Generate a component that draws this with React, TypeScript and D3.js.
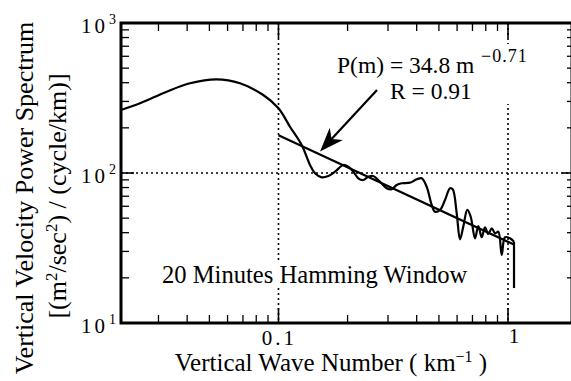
import React from 'react';
import * as d3 from 'd3';

const W = 571;
const H = 381;
const X_DOMAIN: [number, number] = [0.0206, 1.9];
const Y_DOMAIN: [number, number] = [10, 1000];

// Spectrum (vertical wave number km^-1, power)
const specM = [
  0.0206, 0.02492, 0.03258, 0.04116, 0.05378, 0.06796, 0.08585, 0.1, 0.1122, 0.1262,
  0.1372, 0.1442, 0.1543, 0.1648, 0.1763, 0.1916, 0.2014, 0.2118, 0.2227, 0.2342,
  0.2462, 0.2581, 0.2769, 0.2961, 0.3113, 0.3273, 0.3441, 0.3741, 0.4002, 0.4207,
  0.4422, 0.4651, 0.4808, 0.5055, 0.5315, 0.5589, 0.5741, 0.5976, 0.6176, 0.6384,
  0.6647, 0.6877, 0.718, 0.7422, 0.7679, 0.7938, 0.8208, 0.8492, 0.8779, 0.9072,
  0.9387, 0.9703, 1.0202, 1.0619,
];
const specP = [
  263.0, 291.5, 348.3, 396.3, 421.4, 396.3, 331.1, 270.0, 203.5, 153.7,
  113.1, 99.5, 93.6, 95.5, 102.0, 113.1, 110.2, 102.0, 92.2, 89.8,
  94.5, 95.5, 87.5, 79.1, 77.9, 83.2, 85.4, 86.2, 90.8, 92.2,
  81.0, 61.2, 55.2, 56.7, 66.1, 79.1, 77.9, 53.9, 36.1, 43.9,
  56.7, 51.1, 36.7, 44.3, 37.3, 43.4, 39.2, 42.8, 39.6, 40.6,
  28.4, 37.3, 36.7, 34.8,
];
const dropEndP = 17.1;

// Power-law fit
const fitA = 34.8;
const fitB = -0.71;
const fitM = [0.1, 1.062];

// Axes
const xMajor = [0.1, 1];
const xMinor = [0.03, 0.04, 0.05, 0.06, 0.07, 0.08, 0.09, 0.2, 0.3, 0.4, 0.5, 0.6, 0.7, 0.8, 0.9];
const xLabels = ['0.1', '1'];
const yMajor = [10, 100, 1000];
const yMinor = [20, 30, 40, 50, 60, 70, 80, 90, 200, 300, 400, 500, 600, 700, 800, 900];
const yExp = ['1', '2', '3'];
const gridX = [0.1, 1];
const gridY = [100];

// Arrow (data coords)
const arrowTail: [number, number] = [0.2687, 357.5];
const arrowTip: [number, number] = [0.1517, 139.1];

const FONT = '"Liberation Serif", "Times New Roman", serif';

export default function App() {
  const x = d3.scaleLog().domain(X_DOMAIN).range([121, 572]);
  const y = d3.scaleLog().domain(Y_DOMAIN).range([323, 23]);
  const left = x(X_DOMAIN[0]);
  const right = x(X_DOMAIN[1]);
  const top = y(Y_DOMAIN[1]);
  const bottom = y(Y_DOMAIN[0]);

  const pts: [number, number][] = specM.map((m, i) => [x(m), y(specP[i])]);
  const line = d3.line<[number, number]>().curve(d3.curveCatmullRom.alpha(0.5));
  const specPath = line(pts) || '';
  const lastM = specM[specM.length - 1];
  const dropPath = `M${x(lastM)},${y(specP[specP.length - 1])}L${x(lastM)},${y(dropEndP)}`;

  const fitPath = d3.line<number>().x((m) => x(m)).y((m) => y(fitA * Math.pow(m, fitB)))(fitM) || '';

  const tx = x(arrowTail[0]), ty = y(arrowTail[1]);
  const px = x(arrowTip[0]), py = y(arrowTip[1]);
  const dx = px - tx, dy = py - ty;
  const len = Math.hypot(dx, dy);
  const ux = dx / len, uy = dy / len;
  const nx = -uy, ny = ux;
  const hl = 24, hw = 9, notch = 17;
  const b1 = [px - ux * hl + nx * hw, py - uy * hl + ny * hw];
  const b2 = [px - ux * hl - nx * hw, py - uy * hl - ny * hw];
  const nt = [px - ux * notch, py - uy * notch];
  const headPath = `M${px},${py}L${b1[0]},${b1[1]}L${nt[0]},${nt[1]}L${b2[0]},${b2[1]}Z`;

  return (
    <svg width={W} height={H} style={{ position: 'absolute', left: 0, top: 0, background: '#fff' }} fontFamily={FONT}>
      <rect x={0} y={0} width={W} height={H} fill="#fff" />
      {/* grid */}
      {gridX.map((g) => (
        <line key={'gx' + g} x1={x(g)} x2={x(g)} y1={top} y2={bottom} stroke="#000" strokeWidth={1.6} strokeDasharray="2,3" />
      ))}
      {gridY.map((g) => (
        <line key={'gy' + g} x1={left} x2={right} y1={y(g)} y2={y(g)} stroke="#000" strokeWidth={1.6} strokeDasharray="2,3" />
      ))}
      {/* ticks */}
      {xMinor.map((t) => (
        <g key={'xm' + t}>
          <line x1={x(t)} x2={x(t)} y1={bottom} y2={bottom - 8} stroke="#000" strokeWidth={1.3} />
          <line x1={x(t)} x2={x(t)} y1={top} y2={top + 8} stroke="#000" strokeWidth={1.3} />
        </g>
      ))}
      {xMajor.map((t) => (
        <g key={'xM' + t}>
          <line x1={x(t)} x2={x(t)} y1={bottom} y2={bottom - 15} stroke="#000" strokeWidth={1.6} />
          <line x1={x(t)} x2={x(t)} y1={top} y2={top + 15} stroke="#000" strokeWidth={1.6} />
        </g>
      ))}
      {yMinor.map((t) => (
        <g key={'ym' + t}>
          <line x1={left} x2={left + 8} y1={y(t)} y2={y(t)} stroke="#000" strokeWidth={1.3} />
          <line x1={right} x2={right - 5} y1={y(t)} y2={y(t)} stroke="#000" strokeWidth={1.3} />
        </g>
      ))}
      {yMajor.map((t) => (
        <g key={'yM' + t}>
          <line x1={left} x2={left + 13} y1={y(t)} y2={y(t)} stroke="#000" strokeWidth={1.6} />
          <line x1={right} x2={right - 10} y1={y(t)} y2={y(t)} stroke="#000" strokeWidth={1.6} />
        </g>
      ))}
      {/* frame */}
      <rect x={left} y={top} width={right - left} height={bottom - top} fill="none" stroke="#000" strokeWidth={3} />

      {/* annotation backgrounds */}
      <rect x={332} y={44} width={206} height={60} fill="#fff" />
      <rect x={158} y={263} width={318} height={25} fill="#fff" />

      {/* data */}
      <path d={specPath} fill="none" stroke="#000" strokeWidth={2.2} strokeLinejoin="round" />
      <path d={dropPath} fill="none" stroke="#000" strokeWidth={2.2} />
      <path d={fitPath} fill="none" stroke="#000" strokeWidth={2.2} />

      {/* arrow */}
      <line x1={tx} y1={ty} x2={nt[0]} y2={nt[1]} stroke="#000" strokeWidth={2.2} />
      <path d={headPath} fill="#000" />

      {/* annotations */}
      <text x={337} y={72.5} fontSize={23.5}>P(m) = 34.8 m</text>
      <text x={481} y={62} fontSize={18} letterSpacing={1}>−0.71</text>
      <text x={390} y={98.5} fontSize={23.5}>R = 0.91</text>
      <text x={162} y={283} fontSize={24.6}>20 Minutes Hamming Window</text>

      {/* y tick labels */}
      {yMajor.map((t, i) => (
        <g key={'yl' + t}>
          <text x={108} y={y(t) + 10} fontSize={21} textAnchor="end" letterSpacing={3}>10</text>
          <text x={109} y={y(t) + 1} fontSize={14}>{yExp[i]}</text>
        </g>
      ))}
      {/* x tick labels */}
      <text x={x(xMajor[0]) + 1} y={345} fontSize={21} textAnchor="middle" letterSpacing={3}>{xLabels[0]}</text>
      <text x={x(xMajor[1]) + 6} y={343} fontSize={21} textAnchor="middle">{xLabels[1]}</text>

      {/* axis titles */}
      <text x={331} y={371} fontSize={25} textAnchor="middle">
        Vertical Wave Number ( km<tspan dy={-9} fontSize={16}>−1</tspan><tspan dy={9}> )</tspan>
      </text>
      <text transform="translate(33,198) rotate(-90)" fontSize={26} textAnchor="middle">Vertical Velocity Power Spectrum</text>
      <text transform="translate(66,196) rotate(-90)" fontSize={26} textAnchor="middle">
        [(m<tspan dy={-9} fontSize={17}>2</tspan><tspan dy={9}>/sec</tspan><tspan dy={-9} fontSize={17}>2</tspan><tspan dy={9}>) / (cycle/km)]</tspan>
      </text>
    </svg>
  );
}
